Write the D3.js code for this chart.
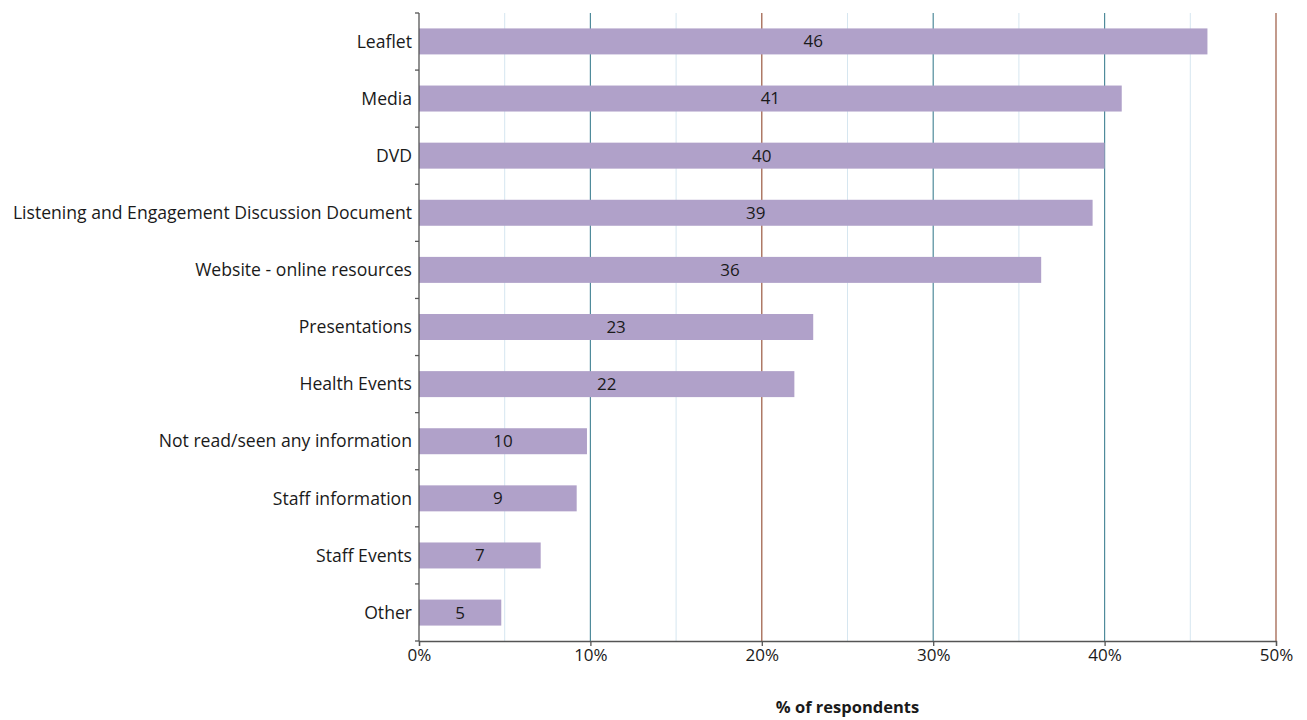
<!DOCTYPE html>
<html>
<head>
<meta charset="utf-8">
<script src="https://cdn.jsdelivr.net/npm/d3@7"></script>
<style>
  body { margin: 0; background: #fff; }
  text { font-family: "Open Sans", "Liberation Sans", sans-serif; fill: #1a1a1a; }
</style>
</head>
<body>
<svg id="chart" width="1307" height="720"></svg>
<script>
// categories top to bottom
const categories = ["Leaflet", "Media", "DVD", "Listening and Engagement Discussion Document",
    "Website - online resources", "Presentations", "Health Events",
    "Not read/seen any information", "Staff information", "Staff Events", "Other"];
// bar lengths (% of respondents)
const percents = [46.0, 41.0, 40.0, 39.3, 36.3, 23.0, 21.9, 9.8, 9.2, 7.1, 4.8];
// rounded labels shown on the bars
const barLabels = ["46", "41", "40", "39", "36", "23", "22", "10", "9", "7", "5"];
const xTicks = [0, 10, 20, 30, 40, 50];
const minorGrid = [5, 15, 25, 35, 45];

let svg = d3.select("#chart");
let plotLeft = 419, plotRight = 1276, plotTop = 13, plotBottom = 641;

let x = d3.scaleLinear().domain([0, 50]).range([plotLeft, plotRight]);
let y = d3.scaleBand().domain(categories).range([plotTop, plotBottom]).paddingInner(0.545).paddingOuter(0.27);

// gridlines
svg.append("g").selectAll("line.minor")
    .data(minorGrid)
    .enter()
    .append("line")
    .attr("x1", d => x(d)).attr("x2", d => x(d))
    .attr("y1", plotTop).attr("y2", plotBottom)
    .attr("stroke", "#d6e6f0")
    .attr("stroke-width", 1);

svg.append("g").selectAll("line.major")
    .data(xTicks.slice(1))
    .enter()
    .append("line")
    .attr("x1", d => x(d)).attr("x2", d => x(d))
    .attr("y1", plotTop).attr("y2", plotBottom)
    .attr("stroke", d => (d === 20 || d === 50) ? "#9a5840" : "#4f8b9b")
    .attr("stroke-width", 1.2);

// bars
svg.append("g").selectAll("rect")
    .data(categories)
    .enter()
    .append("rect")
    .attr("x", x(0))
    .attr("y", d => y(d))
    .attr("width", (d, i) => x(percents[i]) - x(0))
    .attr("height", y.bandwidth())
    .attr("fill", "#b0a1c9");

// value labels centred in bars
svg.append("g").selectAll("text")
    .data(categories)
    .enter()
    .append("text")
    .attr("x", (d, i) => (x(0) + x(percents[i])) / 2)
    .attr("y", d => y(d) + y.bandwidth() / 2)
    .attr("dy", ".35em")
    .attr("text-anchor", "middle")
    .style("font-size", "17px")
    .text((d, i) => barLabels[i]);

// left axis
let yAxisG = svg.append("g");
yAxisG.append("line")
    .attr("x1", plotLeft).attr("x2", plotLeft)
    .attr("y1", plotTop).attr("y2", plotBottom)
    .attr("stroke", "#555").attr("stroke-width", 1.3);
let step = (plotBottom - plotTop) / categories.length;
yAxisG.selectAll("line.tick")
    .data(d3.range(categories.length + 1))
    .enter()
    .append("line")
    .attr("x1", plotLeft - 4).attr("x2", plotLeft)
    .attr("y1", d => plotTop + d * step).attr("y2", d => plotTop + d * step)
    .attr("stroke", "#555").attr("stroke-width", 1.3);
yAxisG.selectAll("text")
    .data(categories)
    .enter()
    .append("text")
    .attr("x", plotLeft - 7)
    .attr("y", d => y(d) + y.bandwidth() / 2)
    .attr("dy", ".35em")
    .attr("text-anchor", "end")
    .style("font-size", "17.6px")
    .text(d => d);

// bottom axis
let xAxis = d3.axisBottom(x)
    .tickValues(xTicks)
    .tickSize(5)
    .tickFormat(d => d + "%");
let xAxisG = svg.append("g")
    .attr("transform", "translate(0," + plotBottom + ")")
    .call(xAxis);
xAxisG.select(".domain").attr("stroke", "#555").attr("stroke-width", 1.3);
xAxisG.selectAll(".tick line").attr("stroke", "#555").attr("stroke-width", 1.3);
xAxisG.selectAll(".tick text")
    .attr("y", 8)
    .style("font-size", "17px")
    .style("font-family", "'Open Sans', sans-serif")
    .attr("fill", "#1a1a1a");

// axis title
svg.append("text")
    .attr("x", (plotLeft + plotRight) / 2)
    .attr("y", 713)
    .attr("text-anchor", "middle")
    .style("font-size", "16.5px")
    .style("font-weight", "bold")
    .text("% of respondents");
</script>
</body>
</html>
